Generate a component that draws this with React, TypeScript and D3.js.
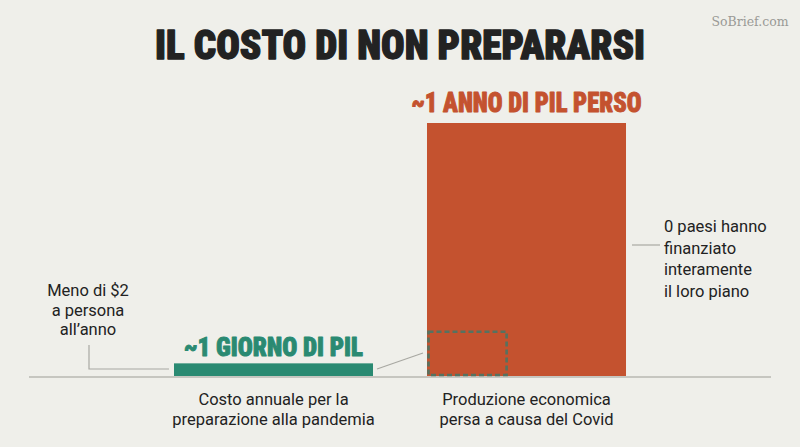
import React from "react";
import * as d3 from "d3";

const categories = ["Costo annuale per la preparazione alla pandemia", "Produzione economica persa a causa del Covid"];
const categoryLines = [["Costo annuale per la", "preparazione alla pandemia"], ["Produzione economica", "persa a causa del Covid"]];
const barValues = [5, 100];
const barLabels = ["~1 GIORNO DI PIL", "~1 ANNO DI PIL PERSO"];
const barColors = ["#2a8a72", "#c4522f"];
const insetValue = 17.5; // dashed comparison box height (same units)
const insetFraction = 0.4; // share of bar width
const leftNote = ["Meno di $2", "a persona", "all’anno"];
const rightNote = ["0 paesi hanno", "finanziato", "interamente", "il loro piano"];
const title = "IL COSTO DI NON PREPARARSI";

const W = 800, H = 447;
const BG = "#efefea";
const SANS = "Roboto, 'Noto Sans', 'Liberation Sans', sans-serif";
const COND = "'Roboto Condensed', 'Liberation Sans Narrow', Roboto, sans-serif";

export default function App() {
  const x = d3.scaleBand<string>().domain(categories).range([147, 653]).paddingInner(0.2134).paddingOuter(0.1067);
  const y = d3.scaleLinear().domain([0, 100]).range([376, 123]);
  const bw = x.bandwidth();
  const x0 = x(categories[0])!;
  const x1 = x(categories[1])!;
  const insetTop = y(insetValue);
  const insetW = bw * insetFraction;

  return (
    <svg width={W} height={H} style={{ display: "block", position: "absolute", left: 0, top: 0 }}>
      <rect width={W} height={H} fill={BG} />
      <text x={750} y={26} textAnchor="middle" fontFamily="'DejaVu Serif', 'Liberation Serif', serif" fontSize={12.5} fill="#9a9a96">SoBrief.com</text>
      <text x={400} y={59} textAnchor="middle" fontFamily={COND} fontWeight={900} fontSize={41} fill="#222" stroke="#222" strokeWidth={1.3} strokeLinejoin="round" textLength={490} lengthAdjust="spacingAndGlyphs">{title}</text>

      {/* baseline */}
      <line x1={29} x2={771} y1={377} y2={377} stroke="#b8b8b2" strokeWidth={1.5} />

      {/* bars */}
      {categories.map((c, i) => (
        <rect key={c} x={x(c)!} y={y(barValues[i])} width={bw} height={y(0) - y(barValues[i])} fill={barColors[i]} />
      ))}

      {/* bar labels */}
      {categories.map((c, i) => (
        <text key={c + "l"} x={x(c)! + bw / 2} y={y(barValues[i]) - (i === 0 ? 7 : 11)} textAnchor="middle" fontFamily={COND} fontWeight={900} fontSize={i === 0 ? 26 : 27} fill={barColors[i]} stroke={barColors[i]} strokeWidth={0.9} strokeLinejoin="round" textLength={i === 0 ? 179 : 230} lengthAdjust="spacingAndGlyphs">{barLabels[i]}</text>
      ))}

      {/* dashed inset */}
      <rect x={x1 + 1.5} y={insetTop} width={insetW - 1.5} height={y(0) - insetTop - 1} fill="none" stroke="#557260" strokeWidth={2.6} strokeDasharray="5,3" />
      <line x1={x0 + bw + 4} y1={369} x2={x1 - 4} y2={353} stroke="#a8a8a2" strokeWidth={1.2} />

      {/* left note */}
      {leftNote.map((t, i) => (
        <text key={t} x={88} y={296 + i * 19.5} textAnchor="middle" fontFamily={SANS} fontSize={16.5} fill="#222">{t}</text>
      ))}
      <polyline points={`89,345 89,369 ${x0 - 5},369`} fill="none" stroke="#a8a8a2" strokeWidth={1.2} />

      {/* right note */}
      <line x1={x1 + bw + 6} x2={660} y1={245} y2={245} stroke="#a8a8a2" strokeWidth={1.2} />
      {rightNote.map((t, i) => (
        <text key={t} x={664} y={232 + i * 21.5} fontFamily={SANS} fontSize={16.5} fill="#222">{t}</text>
      ))}

      {/* category labels */}
      {categories.map((c, i) => (
        <text key={c + "c"} x={x(c)! + bw / 2} y={405} textAnchor="middle" fontFamily={SANS} fontSize={16.5} fill="#222">
          {categoryLines[i].map((ln, j) => (
            <tspan key={ln} x={x(c)! + bw / 2} dy={j === 0 ? 0 : 20}>{ln}</tspan>
          ))}
        </text>
      ))}
    </svg>
  );
}
